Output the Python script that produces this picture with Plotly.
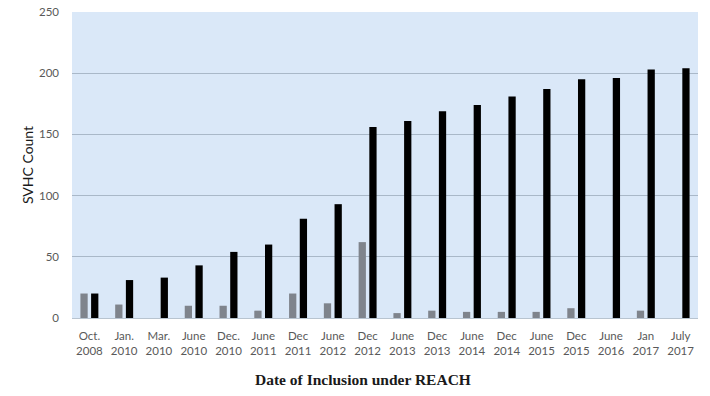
import plotly.graph_objects as go

categories = ["Oct.<br>2008", "Jan.<br>2010", "Mar.<br>2010", "June<br>2010", "Dec.<br>2010",
              "June<br>2011", "Dec<br>2011", "June<br>2012", "Dec<br>2012", "June<br>2013",
              "Dec<br>2013", "June<br>2014", "Dec<br>2014", "June<br>2015", "Dec<br>2015",
              "June<br>2016", "Jan<br>2017", "July<br>2017"]
new_svhc = [20, 11, 0, 10, 10, 6, 20, 12, 62, 4, 6, 5, 5, 5, 8, 0, 6, 0]
total_svhc = [20, 31, 33, 43, 54, 60, 81, 93, 156, 161, 169, 174, 181, 187, 195, 196, 203, 204]
y_ticks = [0, 50, 100, 150, 200, 250]

fig = go.Figure()
fig.add_trace(go.Bar(x=categories, y=new_svhc, name="New", marker=dict(color="#7f848c", line=dict(width=0))))
fig.add_trace(go.Bar(x=categories, y=total_svhc, name="Total", marker=dict(color="#000000", line=dict(width=0))))

fig.update_layout(
    width=710, height=396,
    margin=dict(l=72, r=12, t=12, b=78, autoexpand=False),
    paper_bgcolor="white",
    plot_bgcolor="#dae8f8",
    barmode="group",
    bargap=0.385,
    bargroupgap=0.32,
    showlegend=False,
    font=dict(family="Lato, Liberation Sans, sans-serif", color="#595959", size=11),
)
fig.update_xaxes(
    showgrid=False, showline=True, linecolor="#b8c4d0", linewidth=1, automargin=False,
    tickfont=dict(size=11.5, color="#595959"), tickangle=0, ticks="", ticklabelstandoff=7,
)
fig.update_yaxes(
    range=[0, 250], tickvals=y_ticks, showgrid=True, gridcolor="#a9b8c8", gridwidth=1,
    zeroline=False, tickfont=dict(size=11.5, color="#595959"), ticklabelstandoff=12, automargin=False,
    title=dict(text="SVHC Count", font=dict(size=14, color="#1a1a1a", family="Lato, Liberation Sans, sans-serif"), standoff=2),
)
fig.add_annotation(
    text="<b>Date of Inclusion under REACH</b>", xref="paper", yref="paper",
    x=0.465, y=-0.2, xanchor="center", yanchor="middle", showarrow=False,
    font=dict(family="Liberation Serif, Times New Roman, serif", size=15.5, color="#1a1a1a"),
)

fig.write_html("out.html", config={"displayModeBar": False},
               post_script="document.body.style.margin='0';document.body.style.overflow='hidden';")
